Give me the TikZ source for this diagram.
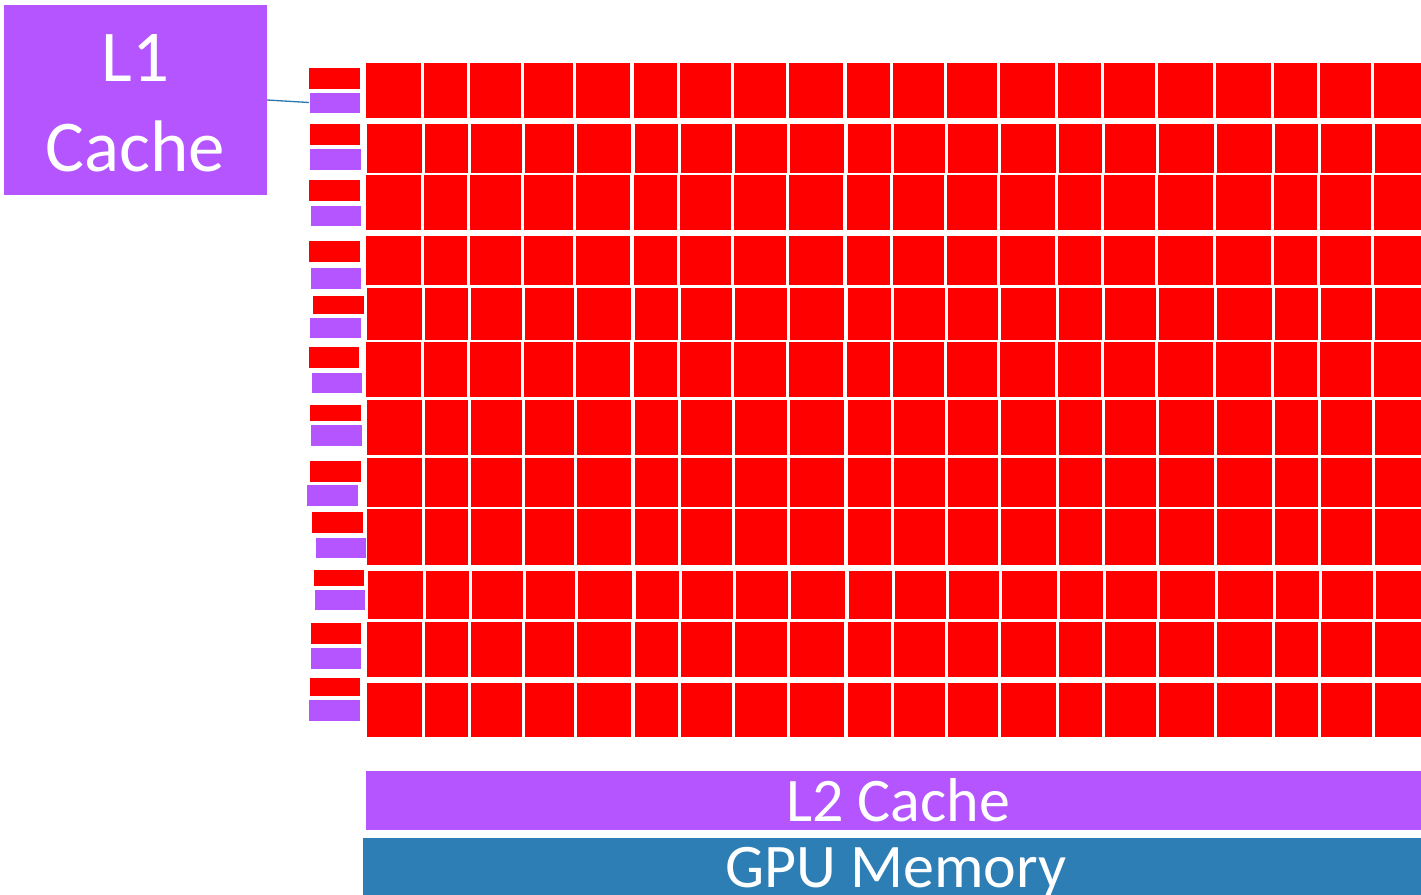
\documentclass[tikz,border=0pt]{standalone}
\usepackage{fontspec}
\setmainfont{Carlito}
\definecolor{cachepurple}{HTML}{B455FF}
\definecolor{corered}{HTML}{FF0000}
\definecolor{memblue}{HTML}{2E7EB6}
\definecolor{linkblue}{HTML}{2A78B0}
\tikzset{
  cell/.style={fill=corered},
  smallbox/.style={inner sep=0pt, outer sep=0pt, anchor=north west, draw=white, line width=0.8pt},
  regbox/.style={smallbox, fill=corered},
  l1box/.style={smallbox, fill=cachepurple},
  bigbox/.style={inner sep=0pt, outer sep=0pt, fill=cachepurple},
  label text/.style={inner sep=0pt, outer sep=0pt, text=white},
  link/.style={draw=linkblue, line width=1.3pt}
}
\newcommand{\pairbox}[9]{%
  % #1 index, #2-#5 red box (x1,y1,x2,y2), #6-#9 purple box (x1,y1,x2,y2)
  \pgfmathsetmacro{\rw}{#4-#2}\pgfmathsetmacro{\rh}{#5-#3}%
  \pgfmathsetmacro{\pw}{#8-#6}\pgfmathsetmacro{\ph}{#9-#7}%
  \node[regbox, minimum width=\rw pt, minimum height=\rh pt] (r#1) at (#2,#3) {};
  \node[l1box, minimum width=\pw pt, minimum height=\ph pt] (p#1) at (#6,#7) {};
}
\begin{document}
\begin{tikzpicture}[x=1pt, y=-1pt]
\useasboundingbox (0,0) rectangle (1421,894);

% streaming-multiprocessor core grid: 12 rows x 20 columns
\foreach \ya/\yb/\dx in {63/118/0, 124/173/1, 175/230/0, 236/285/0, 288/340/1, 342/397/0,
                         400/455/1, 458/507/1, 509/565/1, 571/619/2, 622/677/1, 683/737/1}{
  \foreach \xa/\xb in {366/421, 424/467, 470/521, 524/573, 576/630, 634/677, 680/731,
                       734/786, 789/843, 847/890, 893/944, 947/997, 1000/1055, 1058/1101,
                       1104/1155, 1158/1213, 1216/1271, 1274/1317, 1320/1371, 1374/1430}{
    \fill[cell] (\xa+\dx,\ya) rectangle (\xb+\dx,\yb);
  }
}

% per-row register file (red) and L1 cache (purple)
\pairbox{1}{308}{67}{360}{89}{309}{92}{360}{113}
\pairbox{2}{309}{123}{360}{145}{309}{148}{361}{170}
\pairbox{3}{308}{179}{360}{201}{310}{205}{361}{226}
\pairbox{4}{308}{240}{360}{262}{310}{267}{361}{289}
\pairbox{5}{312}{295}{364}{314}{309}{317}{361}{338}
\pairbox{6}{308}{346}{359}{368}{311}{372}{362}{393}
\pairbox{7}{309}{404}{361}{421}{310}{424}{362}{446}
\pairbox{8}{309}{460}{361}{482}{306}{484}{358}{506}
\pairbox{9}{311}{511}{363}{533}{315}{537}{366}{558}
\pairbox{10}{313}{569}{364}{586}{314}{589}{365}{610}
\pairbox{11}{310}{622}{361}{644}{310}{647}{361}{669}
\pairbox{12}{309}{677}{360}{696}{308}{699}{360}{721}

% L1 cache callout
\node[bigbox, minimum width=263pt, minimum height=190pt] (l1) at (135.5,100) {};
\node[label text, align=center, font=\fontsize{73}{90}\selectfont] (l1text) at (135.5,103) {L1\\Cache};
\draw[link] (l1.east) -- (p1.west);

% L2 cache and GPU memory bars
\node[bigbox, minimum width=1055pt, minimum height=59pt] (l2) at (893.5,800.5) {};
\node[label text, anchor=base, font=\fontsize{62}{70}\selectfont] (l2text) at (898,821) {L2 Cache};
\node[inner sep=0pt, outer sep=0pt, fill=memblue, minimum width=1070pt, minimum height=80pt,
      anchor=north west] (gpu) at (363,838) {};
\node[label text, anchor=base, font=\fontsize{62}{70}\selectfont]
      (gputext) at (896,887) {GPU Memory};
\end{tikzpicture}
\end{document}
